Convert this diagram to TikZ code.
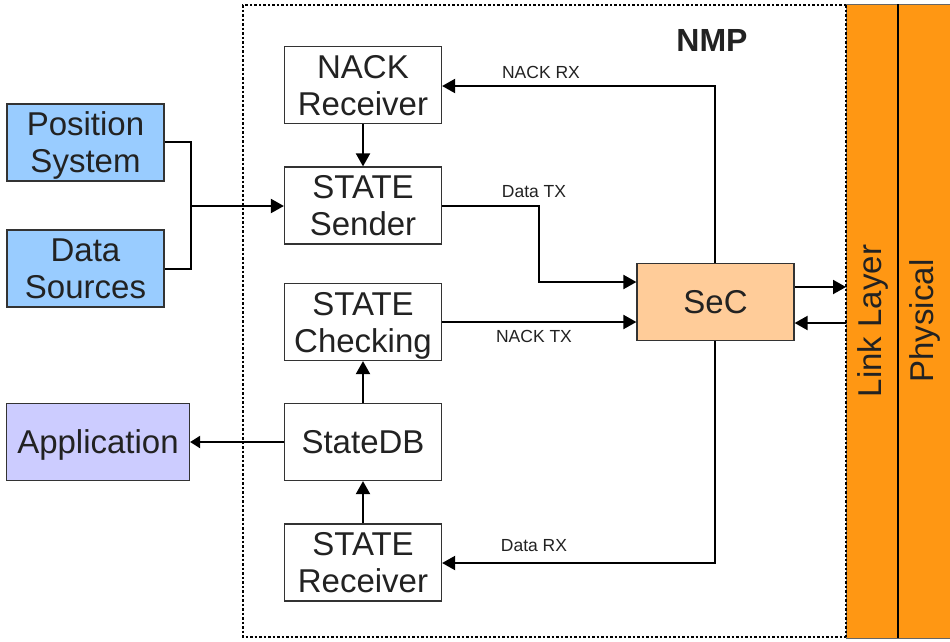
\documentclass[tikz,border=0pt]{standalone}
\usepackage{fontspec}
\setmainfont{Liberation Sans}
\usetikzlibrary{arrows.meta}
\definecolor{posblue}{HTML}{99CCFF}
\definecolor{applilac}{HTML}{CCCCFF}
\definecolor{secpeach}{HTML}{FFCC99}
\definecolor{layerorange}{HTML}{FF9713}
\definecolor{txt}{HTML}{222222}
% line strut: every text line gets the same height and depth
\newcommand\lnstrut{\rule[-6.7pt]{0pt}{37pt}}
\tikzset{
  blk/.style={draw=black!80, line width=1.2pt, minimum width=157pt, minimum height=77pt,
    inner sep=0pt, align=center, text=txt, font=\fontsize{33}{37}\selectfont},
  conn/.style={line width=2pt, line join=miter},
  head/.style={-{Triangle[length=13pt,width=14pt]}},
  smallhead/.style={-{Triangle[length=10pt,width=12pt]}},
  lbl/.style={text=txt, font=\fontsize{17.5}{20}\selectfont, inner sep=0pt},
  bar/.style={fill=layerorange, draw=black!60, line width=1pt},
}
\begin{document}
\begin{tikzpicture}[x=1pt, y=-1pt]
\useasboundingbox (0,0) rectangle (950,641);
\fill[white] (0,0) rectangle (950,641);

% protocol layer bars
\draw[bar] (846,4) rectangle (898,638);
\draw[bar] (898,4) rectangle (950,638);
\draw[line width=1.5pt] (898,4) -- (898,638);
\node[rotate=90, text=txt, font=\fontsize{33}{37}\selectfont] (link) at (872.5,321) {Link Layer};
\node[rotate=90, text=txt, font=\fontsize{33}{37}\selectfont] (phys) at (924.5,321) {Physical};

% NMP boundary
\draw[line width=2pt, dash pattern=on 2.5pt off 2pt] (846,5) -- (243,5) -- (243,637) -- (846,637);
\draw[line width=2pt, dash pattern=on 2.5pt off 2pt] (846,5) -- (846,637);
\node[font=\bfseries\fontsize{32}{36}\selectfont, text=txt] (nmp) at (712,40) {NMP};

% NMP blocks
\node[blk] (nack) at (363,85) {\lnstrut NACK\\\lnstrut Receiver};
\node[blk] (send) at (363,205.5) {\lnstrut STATE\\\lnstrut Sender};
\node[blk] (check) at (363,322) {\lnstrut STATE\\\lnstrut Checking};
\node[blk] (db) at (363,442) {\lnstrut StateDB};
\node[blk] (recv) at (363,562.5) {\lnstrut STATE\\\lnstrut Receiver};
\node[blk, fill=secpeach] (sec) at (715.5,302) {\lnstrut SeC};

% external blocks
\node[blk, fill=posblue] (pos) at (85.5,142.5) {\lnstrut Position\\\lnstrut System};
\node[blk, fill=posblue] (src) at (85.5,268.5) {\lnstrut Data\\\lnstrut Sources};
\node[blk, fill=applilac, minimum width=183pt] (app) at (98,442) {\lnstrut Application};

% connectors
\coordinate (join) at (191,206);
\draw[conn] (pos.east |- 0,142) -| (join);
\draw[conn] (src.east |- 0,269) -| (join);
\draw[conn, head] (join) -- (send.west |- join);
\draw[conn, head] (nack) -- (send);
\draw[conn, head] (sec.north -| 715,0) |- (nack.east |- 0,86);
\draw[conn, head] (send.east |- 0,206) -| (539,282) -- (sec.west |- 0,282);
\draw[conn, head] (check.east) -- (sec.west |- check.east);
\draw[conn, head] (db) -- (check);
\draw[conn, head] (recv) -- (db);
\draw[conn, smallhead] (db.west) -- (app.east);
\draw[conn, head] (sec.south -| 715,0) |- (recv.east |- 0,563);
\draw[conn, head] (sec.east |- 0,287) -- (846,287);
\draw[conn, head] (846,323) -- (sec.east |- 0,323);

% connector labels
\node[lbl] (l1) at (541,72) {NACK RX};
\node[lbl] (l2) at (534,192) {Data TX};
\node[lbl] (l3) at (534,336) {NACK TX};
\node[lbl] (l4) at (534,546) {Data RX};
\end{tikzpicture}
\end{document}
